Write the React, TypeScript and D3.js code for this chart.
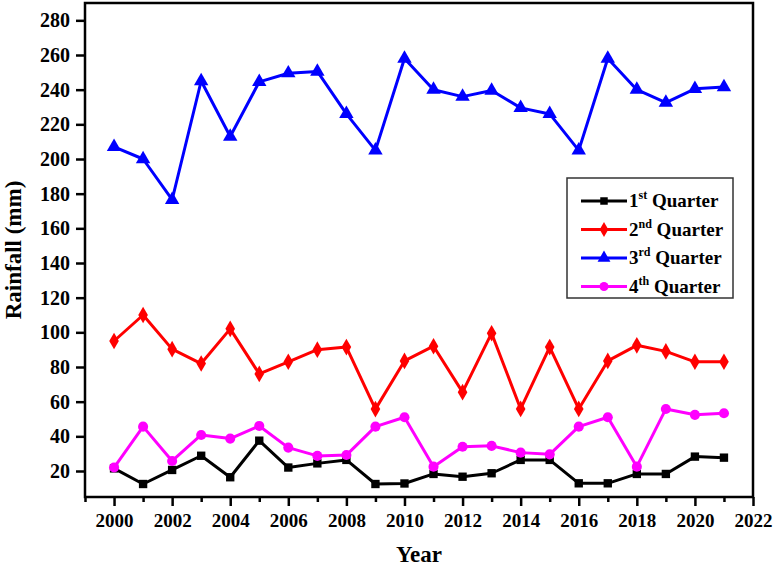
import * as d3 from 'd3';
import { useRef, useEffect } from 'react';

// chart data
const YEARS = [2000, 2001, 2002, 2003, 2004, 2005, 2006, 2007, 2008, 2009, 2010, 2011, 2012, 2013, 2014, 2015, 2016, 2017, 2018, 2019, 2020, 2021];
const Q1 = [21.5, 12.5, 20.6, 28.8, 16.4, 37.5, 22, 24.4, 26.4, 12.5, 12.8, 18.3, 16.7, 18.7, 26.4, 26.4, 12.9, 12.9, 18.3, 18.3, 28.3, 27.7];
const Q2 = [95, 110, 90.3, 82, 102, 76, 83, 90, 91.5, 55.7, 83.5, 92, 65.5, 99.5, 55.8, 91.5, 55.8, 83.5, 92.5, 89, 83, 83];
const Q3 = [207, 200, 176.5, 245, 213, 244.5, 249.5, 250.5, 226, 205, 258, 240, 236, 239.5, 229.5, 226, 205, 258, 240, 232.5, 240.5, 241.5];
const Q4 = [22, 45.6, 25.8, 40.8, 38.7, 46, 33.5, 28.7, 29.2, 45.6, 51, 22.5, 34, 34.5, 30.6, 29.6, 45.6, 51, 22.5, 55.8, 52.4, 53.3];
const SERIES_NAMES = ['1st Quarter', '2nd Quarter', '3rd Quarter', '4th Quarter'];
const Y_TICKS = [20, 40, 60, 80, 100, 120, 140, 160, 180, 200, 220, 240, 260, 280];
const X_TICKS = [2000, 2002, 2004, 2006, 2008, 2010, 2012, 2014, 2016, 2018, 2020, 2022];

// rendering setup
const W = 774;
const H = 569;
const MARGIN = { TOP: 3, RIGHT: 21, BOTTOM: 72, LEFT: 85 };
const FONT = '"Liberation Serif", "Times New Roman", serif';
const COLORS = ['#000000', '#ff0000', '#0000ff', '#ff00ff'];
const SYMBOLS = [d3.symbolSquare, d3.symbolDiamond, d3.symbolTriangle, d3.symbolCircle];
const SYM_SIZE = [70, 80, 90, 80];
const SUPS = ['st', 'nd', 'rd', 'th'];

export default function App() {
  const svgRef = useRef<SVGSVGElement>(null);

  useEffect(() => {
    const svg = d3.select(svgRef.current);
    svg.selectAll('*').remove();

    const x = d3.scaleLinear().domain([1999, 2022]).range([MARGIN.LEFT, W - MARGIN.RIGHT]);
    const y = d3.scaleLinear().domain([5, 290]).range([H - MARGIN.BOTTOM, MARGIN.TOP]);

    const series = [Q1, Q2, Q3, Q4];

    // lines + markers
    series.forEach((vals, si) => {
      const pts = YEARS.map((yr, i) => [yr, vals[i]] as [number, number]);
      svg.append('path')
        .datum(pts)
        .attr('fill', 'none')
        .attr('stroke', COLORS[si])
        .attr('stroke-width', 3)
        .attr('stroke-linejoin', 'round')
        .attr('d', d3.line().x((d) => x(d[0])).y((d) => y(d[1])));
      svg.append('g')
        .selectAll('path')
        .data(pts)
        .join('path')
        .attr('transform', (d) => `translate(${x(d[0])},${y(d[1])})`)
        .attr('d', d3.symbol().type(SYMBOLS[si]).size(SYM_SIZE[si])())
        .attr('fill', COLORS[si]);
    });

    // frame
    svg.append('rect')
      .attr('x', MARGIN.LEFT)
      .attr('y', MARGIN.TOP)
      .attr('width', W - MARGIN.LEFT - MARGIN.RIGHT)
      .attr('height', H - MARGIN.TOP - MARGIN.BOTTOM)
      .attr('fill', 'none')
      .attr('stroke', '#000')
      .attr('stroke-width', 2.5);

    // x axis
    const xAxis = svg.append('g')
      .attr('transform', `translate(0,${H - MARGIN.BOTTOM})`)
      .call(d3.axisBottom(x).tickValues(X_TICKS).tickFormat(d3.format('d')).tickSize(9).tickPadding(8));
    xAxis.select('.domain').remove();
    xAxis.selectAll('line').attr('stroke-width', 2.5);
    xAxis.selectAll('text')
      .attr('font-family', FONT)
      .attr('font-weight', 'bold')
      .attr('font-size', 19)
      .attr('fill', '#000');
    svg.append('g')
      .attr('transform', `translate(0,${H - MARGIN.BOTTOM})`)
      .call(d3.axisBottom(x).tickValues(d3.range(1999, 2022, 2)).tickFormat(() => '').tickSize(5))
      .call((g) => g.select('.domain').remove())
      .selectAll('line').attr('stroke-width', 2.5);

    // y axis
    const yAxis = svg.append('g')
      .attr('transform', `translate(${MARGIN.LEFT},0)`)
      .call(d3.axisLeft(y).tickValues(Y_TICKS).tickSize(9).tickPadding(6));
    yAxis.select('.domain').remove();
    yAxis.selectAll('line').attr('stroke-width', 2.5);
    yAxis.selectAll('text')
      .attr('font-family', FONT)
      .attr('font-weight', 'bold')
      .attr('font-size', 20)
      .attr('fill', '#000');

    // axis titles
    svg.append('text')
      .attr('x', (MARGIN.LEFT + W - MARGIN.RIGHT) / 2)
      .attr('y', 562)
      .attr('text-anchor', 'middle')
      .attr('font-family', FONT)
      .attr('font-weight', 'bold')
      .attr('font-size', 23)
      .text('Year');
    svg.append('text')
      .attr('transform', `translate(21,${(MARGIN.TOP + H - MARGIN.BOTTOM) / 2}) rotate(-90)`)
      .attr('text-anchor', 'middle')
      .attr('font-family', FONT)
      .attr('font-weight', 'bold')
      .attr('font-size', 23)
      .text('Rainfall (mm)');

    // legend
    const lg = svg.append('g').attr('transform', 'translate(567,178)');
    lg.append('rect')
      .attr('width', 166)
      .attr('height', 120)
      .attr('fill', '#fff')
      .attr('stroke', '#333')
      .attr('stroke-width', 1.5);
    SERIES_NAMES.forEach((name, i) => {
      const ly = 23 + i * 28.5;
      const row = lg.append('g').attr('transform', `translate(0,${ly})`);
      row.append('line')
        .attr('x1', 14).attr('x2', 60)
        .attr('stroke', COLORS[i]).attr('stroke-width', 3);
      row.append('path')
        .attr('transform', 'translate(37,0)')
        .attr('d', d3.symbol().type(SYMBOLS[i]).size(SYM_SIZE[i] * 0.8)())
        .attr('fill', COLORS[i]);
      const t = row.append('text')
        .attr('x', 62)
        .attr('y', 6)
        .attr('font-family', FONT)
        .attr('font-weight', 'bold')
        .attr('font-size', 19)
        .attr('fill', '#000');
      t.append('tspan').text(name.charAt(0));
      t.append('tspan').attr('font-size', 12).attr('dy', -8).text(SUPS[i]);
      t.append('tspan').attr('dy', 8).text(' ' + name.split(' ')[1]);
    });
  }, []);

  return (
    <svg
      ref={svgRef}
      width={W}
      height={H}
      style={{ position: 'absolute', left: 0, top: 0, background: '#fff' }}
    />
  );
}
